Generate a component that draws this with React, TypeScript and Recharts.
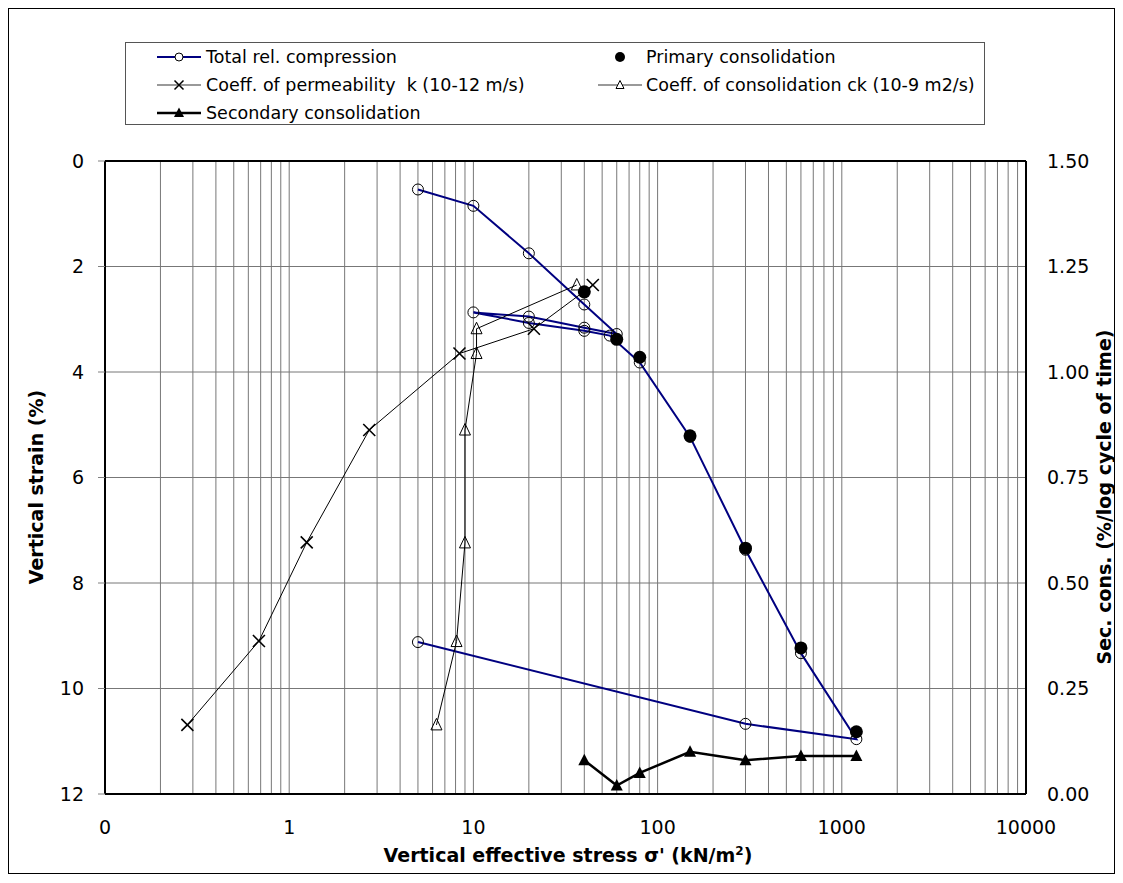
import React from 'react';
import {
  ScatterChart,
  Scatter,
  XAxis,
  YAxis,
  CartesianGrid,
  ReferenceLine,
} from 'recharts';

// total relative compression (load / unload / reload path, in test order)
const totalStress = [5, 10, 20, 40, 60, 40, 20, 10, 20, 40, 55, 80, 150, 300, 600, 1200, 300, 5];
const totalStrain = [0.54, 0.85, 1.75, 2.72, 3.28, 3.16, 2.95, 2.87, 3.07, 3.22, 3.31, 3.82, 5.23, 7.37, 9.33, 10.96, 10.67, 9.12];

// end of primary consolidation
const primaryStress = [40, 60, 80, 150, 300, 600, 1200];
const primaryStrain = [2.48, 3.38, 3.72, 5.21, 7.34, 9.23, 10.82];

// coefficient of permeability k (10-12 m/s), plotted on the stress axis
const kValues = [44.5, 21.3, 8.4, 2.72, 1.245, 0.685, 0.28];
const kStrain = [2.35, 3.18, 3.65, 5.1, 7.23, 9.1, 10.69];

// coefficient of consolidation ck (10-9 m2/s)
const ckValues = [36.4, 10.4, 10.4, 9.0, 9.0, 8.1, 6.3];
const ckStrain = [2.35, 3.18, 3.65, 5.1, 7.24, 9.11, 10.69];

// secondary consolidation (%/log cycle of time), right axis
const secStress = [40, 60, 80, 150, 300, 600, 1200];
const secValues = [0.08, 0.02, 0.05, 0.1, 0.08, 0.09, 0.09];

const xDecades = [0.1, 1, 10, 100, 1000, 10000];
const xDecadeLabels = ['0', '1', '10', '100', '1000', '10000'];
const xMinorSteps = [2, 3, 4, 5, 6, 7, 8, 9];
const leftTicks = [0, 2, 4, 6, 8, 10, 12];
const rightTicks = [0, 0.25, 0.5, 0.75, 1.0, 1.25, 1.5];

const zip = (xs: number[], ys: number[]) => xs.map((x, i) => ({ x, y: ys[i] }));

const totalData = zip(totalStress, totalStrain);
const primaryData = zip(primaryStress, primaryStrain);
const kData = zip(kValues, kStrain);
const ckData = zip(ckValues, ckStrain);
const secData = zip(secStress, secValues);

const xTicks: number[] = [];
xDecades.forEach((d, i) => {
  xTicks.push(d);
  if (i < xDecades.length - 1) xMinorSteps.forEach((m) => xTicks.push(+(d * m).toPrecision(6)));
});

const fmtX = (v: number) => {
  const i = xDecades.findIndex((d) => Math.abs(d - v) < 1e-9);
  return i >= 0 ? xDecadeLabels[i] : '';
};

const OpenCircle = (p: any) => (
  <circle cx={p.cx} cy={p.cy} r={5.5} fill="none" stroke="#000" strokeWidth={1} />
);
const FilledCircle = (p: any) => <circle cx={p.cx} cy={p.cy} r={6.5} fill="#000" />;
const Cross = (p: any) => (
  <path
    d={`M${p.cx - 6},${p.cy - 6}L${p.cx + 6},${p.cy + 6}M${p.cx - 6},${p.cy + 6}L${p.cx + 6},${p.cy - 6}`}
    stroke="#000"
    strokeWidth={1.6}
  />
);
const OpenTri = (p: any) => (
  <polygon
    points={`${p.cx},${p.cy - 6.5} ${p.cx + 5.5},${p.cy + 5} ${p.cx - 5.5},${p.cy + 5}`}
    fill="none"
    stroke="#000"
    strokeWidth={1}
  />
);
const FilledTri = (p: any) => (
  <polygon
    points={`${p.cx},${p.cy - 6.5} ${p.cx + 6},${p.cy + 5} ${p.cx - 6},${p.cy + 5}`}
    fill="#000"
  />
);

const legendText: React.CSSProperties = {
  position: 'absolute',
  fontSize: 17.5,
  lineHeight: '20px',
  whiteSpace: 'nowrap',
  transform: 'translateY(-50%)',
};

function LegendSymbol({ x, y, line, lineWidth, marker }: any) {
  return (
    <svg style={{ position: 'absolute', left: x, top: y - 10, overflow: 'visible' }} width={44} height={20}>
      {line && <line x1={0} y1={10} x2={44} y2={10} stroke={line} strokeWidth={lineWidth} />}
      {marker === 'openCircle' && <circle cx={22} cy={10} r={4} fill="#fff" stroke="#000" strokeWidth={1} />}
      {marker === 'dot' && <circle cx={22} cy={10} r={5} fill="#000" />}
      {marker === 'cross' && <path d="M17.5,5.5L26.5,14.5M17.5,14.5L26.5,5.5" stroke="#000" strokeWidth={1.5} />}
      {marker === 'openTri' && <polygon points="22,5.5 26,13.5 18,13.5" fill="#fff" stroke="#000" strokeWidth={1} />}
      {marker === 'tri' && <polygon points="22,4.5 27,14 17,14" fill="#000" />}
    </svg>
  );
}

function ChartLegend() {
  return (
    <div
      style={{
        position: 'absolute',
        left: 117,
        top: 34,
        width: 860,
        height: 83,
        border: '1px solid #555',
        boxSizing: 'border-box',
        background: '#fff',
      }}
    >
      <LegendSymbol x={31} y={14} line="#000080" lineWidth={2} marker="openCircle" />
      <span style={{ ...legendText, left: 80, top: 14 }}>Total rel. compression</span>
      <LegendSymbol x={472} y={14} marker="dot" />
      <span style={{ ...legendText, left: 520, top: 14 }}>Primary consolidation</span>
      <LegendSymbol x={31} y={42} line="#999" lineWidth={2} marker="cross" />
      <span style={{ ...legendText, left: 80, top: 42 }}>Coeff. of permeability&nbsp; k (10-12 m/s)</span>
      <LegendSymbol x={472} y={42} line="#999" lineWidth={2} marker="openTri" />
      <span style={{ ...legendText, left: 520, top: 42 }}>Coeff. of consolidation ck (10-9 m2/s)</span>
      <LegendSymbol x={31} y={70} line="#000" lineWidth={2.5} marker="tri" />
      <span style={{ ...legendText, left: 80, top: 70 }}>Secondary consolidation</span>
    </div>
  );
}

const titleStyle: React.CSSProperties = {
  position: 'absolute',
  fontSize: 19,
  fontWeight: 'bold',
  whiteSpace: 'nowrap',
  lineHeight: '22px',
};

export default function App() {
  const tickStyle = { fontSize: 19, fill: '#000' };
  return (
    <div style={{ position: 'relative', width: 1107, height: 866, fontFamily: '"DejaVu Sans", Verdana, sans-serif', background: '#fff' }}>
      <div style={{ position: 'absolute', left: 0, top: 0, width: 1107, height: 866, border: '1px solid #000', boxSizing: 'border-box' }} />
      <div style={{ position: 'absolute', left: 0, top: 0 }}>
        <ScatterChart width={1107} height={866} margin={{ top: 153, right: 0, bottom: 30, left: 0 }}>
          <CartesianGrid xAxisId="x" yAxisId="left" stroke="#777" strokeWidth={1} />
          <XAxis
            xAxisId="x"
            dataKey="x"
            type="number"
            scale="log"
            domain={[0.1, 10000]}
            ticks={xTicks}
            interval={0}
            tickFormatter={fmtX}
            tickLine={false}
            tickSize={0}
            tickMargin={27}
            axisLine={{ stroke: '#000', strokeWidth: 2 }}
            tick={tickStyle}
            height={50}
            allowDataOverflow
          />
          <YAxis
            yAxisId="left"
            dataKey="y"
            type="number"
            domain={[0, 12]}
            ticks={leftTicks}
            reversed
            interval={0}
            width={97}
            tickSize={7}
            tickMargin={14}
            tickLine={{ stroke: '#808080' }}
            axisLine={{ stroke: '#000', strokeWidth: 2 }}
            tick={tickStyle}
          />
          <YAxis
            yAxisId="right"
            orientation="right"
            dataKey="y"
            type="number"
            domain={[0, 1.5]}
            ticks={rightTicks}
            interval={0}
            width={89}
            tickLine={false}
            tickSize={0}
            tickMargin={21}
            tickFormatter={(v: number) => v.toFixed(2)}
            axisLine={{ stroke: '#000', strokeWidth: 2 }}
            tick={{ ...tickStyle, textAnchor: 'start' }}
          />
          <ReferenceLine xAxisId="x" yAxisId="left" y={0} stroke="#000" strokeWidth={2} />
          <Scatter
            xAxisId="x"
            yAxisId="left"
            data={totalData}
            line={{ stroke: '#000080', strokeWidth: 2 }}
            lineJointType="linear"
            shape={OpenCircle}
            isAnimationActive={false}
          />
          <Scatter xAxisId="x" yAxisId="left" data={primaryData} shape={FilledCircle} isAnimationActive={false} />
          <Scatter
            xAxisId="x"
            yAxisId="left"
            data={kData}
            line={{ stroke: '#000', strokeWidth: 1 }}
            lineJointType="linear"
            shape={Cross}
            isAnimationActive={false}
          />
          <Scatter
            xAxisId="x"
            yAxisId="left"
            data={ckData}
            line={{ stroke: '#000', strokeWidth: 1 }}
            lineJointType="linear"
            shape={OpenTri}
            isAnimationActive={false}
          />
          <Scatter
            xAxisId="x"
            yAxisId="right"
            data={secData}
            line={{ stroke: '#000', strokeWidth: 2.5 }}
            lineJointType="linear"
            shape={FilledTri}
            isAnimationActive={false}
          />
        </ScatterChart>
      </div>
      <ChartLegend />
      <div style={{ ...titleStyle, left: 28, top: 479, transform: 'translate(-50%, -50%) rotate(-90deg)' }}>
        Vertical strain (%)
      </div>
      <div style={{ ...titleStyle, left: 1096, top: 489, transform: 'translate(-50%, -50%) rotate(-90deg)' }}>
        Sec. cons. (%/log cycle of time)
      </div>
      <div style={{ ...titleStyle, left: 560, top: 847, transform: 'translate(-50%, -50%)' }}>
        Vertical effective stress σ' (kN/m<sup style={{ fontSize: 12, lineHeight: 0 }}>2</sup>)
      </div>
    </div>
  );
}
